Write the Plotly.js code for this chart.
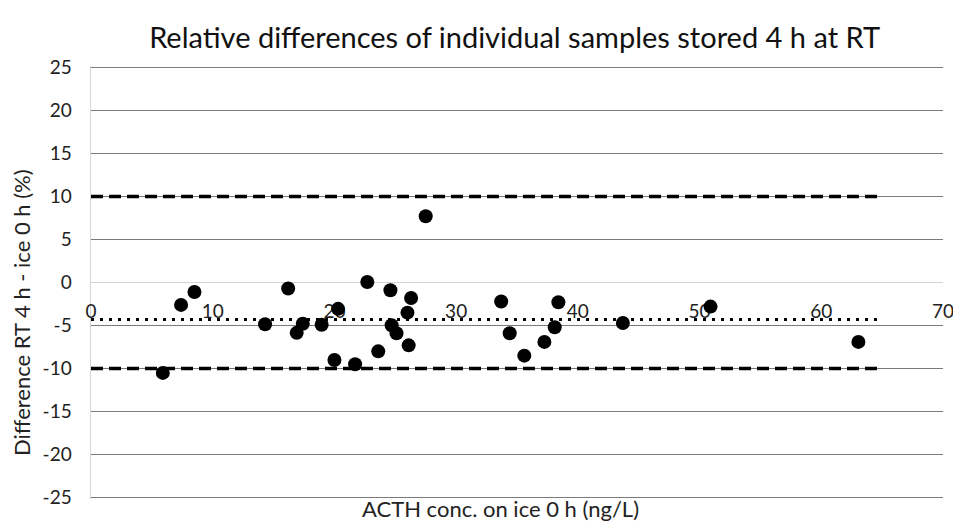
<!DOCTYPE html>
<html>
<head>
<meta charset="utf-8">
<script src="https://cdn.plot.ly/plotly-3.0.1.min.js"></script>
<style>html,body{margin:0;padding:0;background:#fff;}#chart{width:953px;height:526px;}</style>
</head>
<body>
<div id="chart"></div>
<script>
// Sample data: ACTH concentration on ice 0 h (ng/L) vs relative difference (%)
var acthConc = [5.9, 7.4, 8.5, 14.3, 16.2, 16.9, 17.4, 18.95, 20.0, 20.3, 21.7, 22.7,
                23.6, 24.6, 24.7, 25.1, 26.0, 26.3, 26.1, 27.5, 33.7, 34.4, 35.6,
                37.25, 38.1, 38.4, 43.7, 50.9, 63.05];
var relDiff = [-10.5, -2.6, -1.1, -4.85, -0.7, -5.85, -4.8, -4.9, -9.0, -3.06, -9.5, 0.05,
               -8.0, -0.9, -4.96, -5.9, -3.5, -1.8, -7.3, 7.7, -2.2, -5.9, -8.5,
               -6.9, -5.2, -2.3, -4.7, -2.8, -6.9];
// Reference lines
var limitX = [0, 65];
var upperLimit = [10, 10];
var lowerLimit = [-10, -10];
var meanDiff = [-4.3, -4.3];
var xTicks = [0, 10, 20, 30, 40, 50, 60, 70];
var yTicks = [-25, -20, -15, -10, -5, 0, 5, 10, 15, 20, 25];

var FONT = 'Lato, Calibri, Carlito, sans-serif';

var traces = [
  {x: limitX, y: upperLimit, mode: 'lines', line: {color: '#000', width: 3.5, dash: '12px,6px'}, hoverinfo: 'skip', showlegend: false},
  {x: limitX, y: lowerLimit, mode: 'lines', line: {color: '#000', width: 3.5, dash: '12px,6px'}, hoverinfo: 'skip', showlegend: false},
  {x: limitX, y: meanDiff, mode: 'lines', line: {color: '#000', width: 3, dash: '3px,6px'}, hoverinfo: 'skip', showlegend: false},
  {x: acthConc, y: relDiff, mode: 'markers', marker: {color: '#000', size: 14}, showlegend: false}
];

var layout = {
  width: 953, height: 526,
  margin: {l: 91, r: 10, t: 66, b: 27},
  paper_bgcolor: '#fff', plot_bgcolor: '#fff',
  font: {family: FONT, size: 18, color: '#222'},
  title: {text: 'Relative differences of individual samples stored 4 h at RT',
          font: {family: FONT, size: 29, color: '#111'},
          x: 0.540, xanchor: 'center', y: 1 - 38/526, yanchor: 'middle', yref: 'container'},
  xaxis: {
    range: [0, 70], tickmode: 'array', tickvals: xTicks, ticktext: xTicks.map(String),
    showgrid: false, zeroline: false, showline: false,
    anchor: 'free', position: 0.5, ticks: '', ticklabelstandoff: 15,
    ticklabeloverflow: 'allow',
    tickfont: {family: FONT, size: 19, color: '#222'},
    layer: 'below traces', fixedrange: true
  },
  yaxis: {
    range: [-25.15, 25.15], tickmode: 'array', tickvals: yTicks, ticktext: yTicks.map(String),
    showgrid: true, gridcolor: '#7a7a7a', gridwidth: 1.3,
    zeroline: true, zerolinecolor: '#d4d4d4', zerolinewidth: 1.5,
    showline: true, linecolor: '#d4d4d4', linewidth: 1.5,
    ticks: '', ticklabelstandoff: 14,
    tickfont: {family: FONT, size: 19, color: '#222'},
    layer: 'below traces', fixedrange: true
  },
  annotations: [
    {text: 'ACTH conc. on ice 0 h (ng/L)', xref: 'paper', yref: 'paper', x: 0.481, y: -0.023,
     xanchor: 'center', yanchor: 'middle', showarrow: false, font: {family: FONT, size: 22, color: '#222'}},
    {text: 'Difference RT 4 h - ice 0 h (%)', xref: 'paper', yref: 'paper', x: -0.081, y: 0.432,
     xanchor: 'center', yanchor: 'middle', textangle: -90, showarrow: false, font: {family: FONT, size: 22, color: '#222'}}
  ]
};

Plotly.newPlot('chart', traces, layout, {displayModeBar: false, staticPlot: true});
</script>
</body>
</html>
